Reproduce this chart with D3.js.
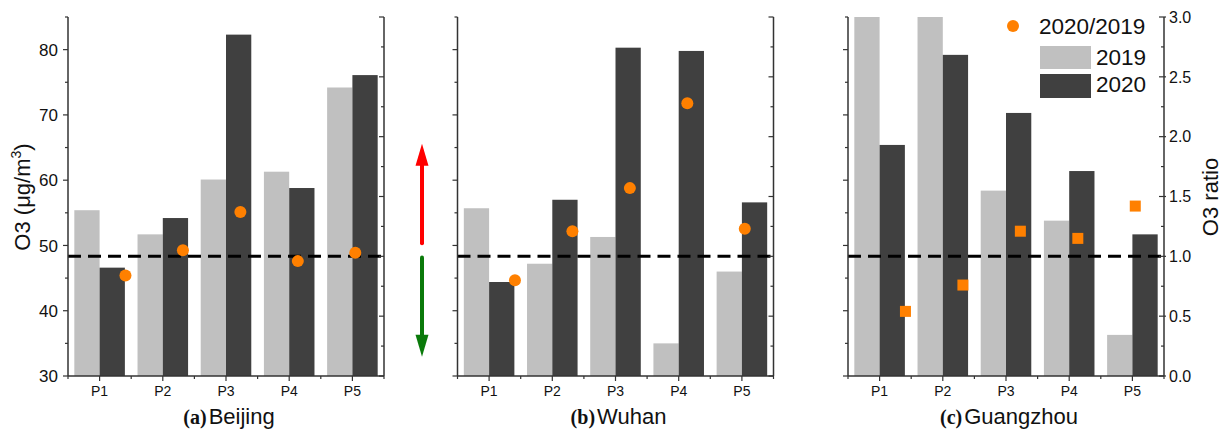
<!DOCTYPE html>
<html>
<head>
<meta charset="utf-8">
<script src="https://cdn.jsdelivr.net/npm/d3@7"></script>
<style>
  html, body { margin: 0; padding: 0; background: #fff; }
  svg { display: block; }
  text { font-family: "Liberation Sans", Arial, sans-serif; fill: #111; }
</style>
</head>
<body>
<svg id="chart" width="1226" height="430"></svg>
<script>
// ---------------- data ----------------
const categories = ["P1", "P2", "P3", "P4", "P5"];
const cities = ["Beijing", "Wuhan", "Guangzhou"];
const panelTags = ["(a)", "(b)", "(c)"];
const seriesNames = ["2019", "2020"];
const ratioName = "2020/2019";

const o3_2019_beijing = [55.4, 51.7, 60.1, 61.3, 74.2];
const o3_2020_beijing = [46.6, 54.2, 82.3, 58.8, 76.1];
const ratio_beijing   = [0.84, 1.05, 1.37, 0.96, 1.03];

const o3_2019_wuhan = [55.7, 47.2, 51.3, 35.0, 46.0];
const o3_2020_wuhan = [44.4, 57.0, 80.3, 79.8, 56.6];
const ratio_wuhan   = [0.80, 1.21, 1.57, 2.28, 1.23];

const o3_2019_guangzhou = [120.4, 104.2, 58.4, 53.8, 36.3];
const o3_2020_guangzhou = [65.4, 79.2, 70.3, 61.4, 51.7];
const ratio_guangzhou   = [0.54, 0.76, 1.21, 1.15, 1.42];

const o3Ticks = [30, 40, 50, 60, 70, 80];
const o3MinorTicks = [35, 45, 55, 65, 75, 85];
const ratioTicks = [0.0, 0.5, 1.0, 1.5, 2.0, 2.5, 3.0];
const ratioMinorTicks = [0.25, 0.75, 1.25, 1.75, 2.25, 2.75];
const baselineRatio = 1.0;

// ---------------- layout ----------------
const panels = [
  { city: cities[0], tag: panelTags[0], v19: o3_2019_beijing, v20: o3_2020_beijing, ratio: ratio_beijing, marker: "circle", x0: 68 },
  { city: cities[1], tag: panelTags[1], v19: o3_2019_wuhan, v20: o3_2020_wuhan, ratio: ratio_wuhan, marker: "circle", x0: 457.5 },
  { city: cities[2], tag: panelTags[2], v19: o3_2019_guangzhou, v20: o3_2020_guangzhou, ratio: ratio_guangzhou, marker: "square", x0: 848 }
];
const pw = 316;
const yTop = 17, yBottom = 376;
const colLight = "#c0c0c0", colDark = "#404040", colOrange = "#ff8000", axisCol = "#333";

const svg = d3.select("#chart");
const y = d3.scaleLinear().domain([30, 85]).range([yBottom, yTop]);
const yR = d3.scaleLinear().domain([0, 3]).range([yBottom, yTop]);

panels.forEach((p, pi) => {
  const g = svg.append("g");
  const x = d3.scaleBand().domain(categories).range([p.x0, p.x0 + pw]).paddingInner(0.2).paddingOuter(0.1);
  const xs = d3.scaleBand().domain(seriesNames).range([0, x.bandwidth()]);
  const xr = d3.scaleLinear().domain([0, 5.5]).range([p.x0, p.x0 + pw]);

  const clipId = "clip" + pi;
  svg.append("clipPath").attr("id", clipId)
    .append("rect").attr("x", p.x0).attr("y", yTop).attr("width", pw).attr("height", yBottom - yTop);

  const bars = g.append("g").attr("clip-path", `url(#${clipId})`);
  [[p.v19, colLight, "2019"], [p.v20, colDark, "2020"]].forEach(([vals, col, name]) => {
    bars.selectAll(null).data(vals).enter().append("rect")
      .attr("x", (d, i) => x(categories[i]) + xs(name))
      .attr("width", xs.bandwidth())
      .attr("y", d => y(d))
      .attr("height", d => yBottom - y(d))
      .attr("fill", col);
  });

  // dashed reference line at ratio = 1
  g.append("line")
    .attr("x1", p.x0).attr("x2", p.x0 + pw)
    .attr("y1", yR(baselineRatio)).attr("y2", yR(baselineRatio))
    .attr("stroke", "#000").attr("stroke-width", 3).attr("stroke-dasharray", "13,7");

  // ratio markers
  if (p.marker === "circle") {
    g.selectAll(null).data(p.ratio).enter().append("circle")
      .attr("cx", (d, i) => xr(i + 1)).attr("cy", d => yR(d)).attr("r", 6).attr("fill", colOrange);
  } else {
    g.selectAll(null).data(p.ratio).enter().append("rect")
      .attr("x", (d, i) => xr(i + 1) - 5.5).attr("y", d => yR(d) - 5.5)
      .attr("width", 11).attr("height", 11).attr("fill", colOrange);
  }

  // left axis
  const la = g.append("g").attr("transform", `translate(${p.x0},0)`);
  la.append("line").attr("x1", 0).attr("x2", 0).attr("y1", yTop).attr("y2", yBottom).attr("stroke", axisCol).attr("stroke-width", 1.5);
  la.selectAll(null).data(o3Ticks).enter().append("line")
    .attr("x1", -5).attr("x2", 0).attr("y1", d => y(d)).attr("y2", d => y(d)).attr("stroke", axisCol).attr("stroke-width", 1.2);
  la.selectAll(null).data(o3MinorTicks).enter().append("line")
    .attr("x1", -3).attr("x2", 0).attr("y1", d => y(d)).attr("y2", d => y(d)).attr("stroke", axisCol).attr("stroke-width", 1.2);
  if (pi === 0) {
    la.selectAll(null).data(o3Ticks).enter().append("text")
      .attr("x", -10).attr("y", d => y(d)).attr("dy", "0.36em")
      .attr("text-anchor", "end").attr("font-size", 17).text(d => d);
  }

  // right axis
  const ra = g.append("g").attr("transform", `translate(${p.x0 + pw},0)`);
  ra.append("line").attr("x1", 0).attr("x2", 0).attr("y1", yTop).attr("y2", yBottom).attr("stroke", axisCol).attr("stroke-width", 1.5);
  ra.selectAll(null).data(ratioTicks).enter().append("line")
    .attr("x1", -5).attr("x2", pi === 2 ? 2 : 0).attr("y1", d => yR(d)).attr("y2", d => yR(d)).attr("stroke", axisCol).attr("stroke-width", 1.2);
  ra.selectAll(null).data(ratioMinorTicks).enter().append("line")
    .attr("x1", -3).attr("x2", 0).attr("y1", d => yR(d)).attr("y2", d => yR(d)).attr("stroke", axisCol).attr("stroke-width", 1.2);
  if (pi === 2) {
    ra.selectAll(null).data(ratioTicks).enter().append("text")
      .attr("x", 5).attr("y", d => yR(d)).attr("dy", "0.36em")
      .attr("font-size", 16).text(d => d3.format(".1f")(d));
  }

  // bottom axis
  const ba = g.append("g");
  ba.append("line").attr("x1", p.x0).attr("x2", p.x0 + pw).attr("y1", yBottom).attr("y2", yBottom).attr("stroke", axisCol).attr("stroke-width", 1.5);
  ba.selectAll(null).data(categories).enter().append("line")
    .attr("x1", d => x(d) + x.bandwidth() / 2).attr("x2", d => x(d) + x.bandwidth() / 2)
    .attr("y1", yBottom).attr("y2", yBottom + 5).attr("stroke", axisCol).attr("stroke-width", 1.2);
  const bounds = d3.range(categories.length + 1).map(i => p.x0 + i * x.step());
  ba.selectAll(null).data(bounds).enter().append("line")
    .attr("x1", d => d).attr("x2", d => d)
    .attr("y1", yBottom).attr("y2", yBottom + 3).attr("stroke", axisCol).attr("stroke-width", 1.2);
  ba.selectAll(null).data(categories).enter().append("text")
    .attr("x", d => x(d) + x.bandwidth() / 2).attr("y", 396)
    .attr("text-anchor", "middle").attr("font-size", 14).text(d => d);

  // panel title
  const t = g.append("text").attr("x", p.x0 + pw / 2 + 3).attr("y", 424).attr("text-anchor", "middle");
  t.append("tspan").attr("font-family", "'Liberation Serif', 'Times New Roman', serif")
    .attr("font-weight", "bold").attr("font-size", 20).text(p.tag);
  t.append("tspan").attr("font-size", 22).attr("dx", 2).text(p.city);
});

// left axis title
const lt = svg.append("text").attr("transform", "translate(30,197) rotate(-90)")
  .attr("text-anchor", "middle").attr("font-size", 22);
lt.append("tspan").text("O3 (μg/m");
lt.append("tspan").attr("font-size", 14).attr("dy", -9).text("3");
lt.append("tspan").attr("dy", 9).text(")");

// right axis title
svg.append("text").attr("transform", "translate(1218,197) rotate(-90)")
  .attr("text-anchor", "middle").attr("font-size", 22).text("O3 ratio");

// arrows (between panel a and b)
const ax = 422;
function arrow(yStart, yTip, color) {
  const dir = yTip < yStart ? -1 : 1;
  const headLen = 22, headW = 6.5;
  const base = yTip - dir * headLen;
  svg.append("line").attr("x1", ax).attr("x2", ax).attr("y1", yStart).attr("y2", base + dir * 2)
    .attr("stroke", color).attr("stroke-width", 4).attr("stroke-linecap", "round");
  svg.append("path").attr("d", `M${ax},${yTip} L${ax - headW},${base} L${ax + headW},${base} Z`).attr("fill", color);
}
arrow(yR(1.11), yR(1.94), "#ff0000");
arrow(yR(0.99), yR(0.16), "#0a7a0a");

// legend
const lg = svg.append("g");
lg.append("circle").attr("cx", 1013).attr("cy", 26).attr("r", 6).attr("fill", colOrange);
lg.append("text").attr("x", 1039).attr("y", 34).attr("font-size", 22.5).text(ratioName);
lg.append("rect").attr("x", 1040).attr("y", 46).attr("width", 51).attr("height", 23).attr("fill", colLight);
lg.append("text").attr("x", 1096).attr("y", 65).attr("font-size", 22.5).text(seriesNames[0]);
lg.append("rect").attr("x", 1040).attr("y", 74).attr("width", 51).attr("height", 24).attr("fill", colDark);
lg.append("text").attr("x", 1096).attr("y", 92).attr("font-size", 22.5).text(seriesNames[1]);
</script>
</body>
</html>
